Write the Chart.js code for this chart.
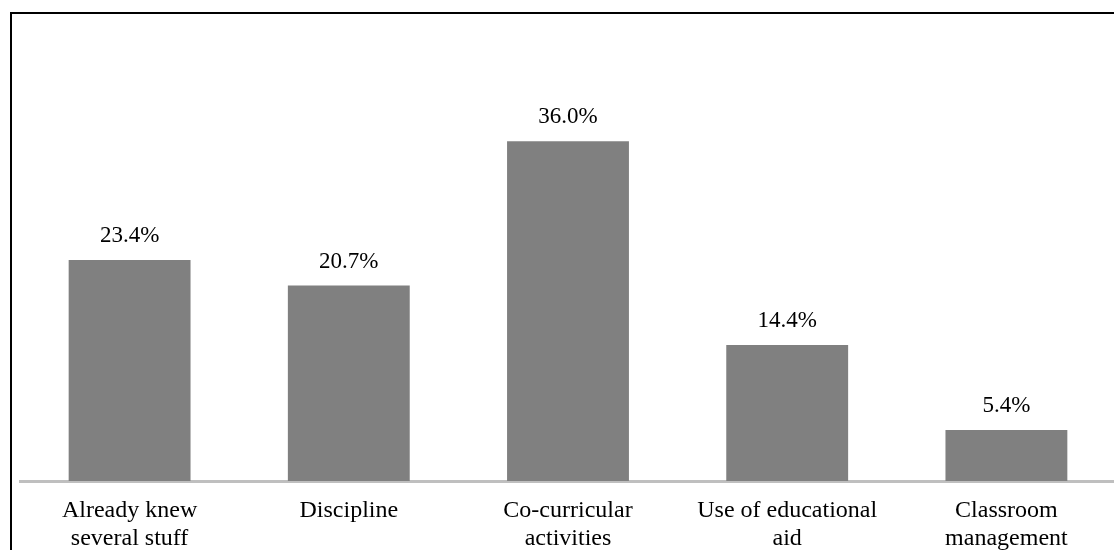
<!DOCTYPE html>
<html>
<head>
<meta charset="utf-8">
<script src="https://cdn.jsdelivr.net/npm/chart.js@4/dist/chart.umd.min.js"></script>
<style>
  html, body { margin: 0; padding: 0; background: #fff; }
  body { width: 1114px; height: 550px; overflow: hidden; position: relative; }
  #frame {
    position: absolute; left: 10px; top: 12px;
    border-left: 2px solid #000; border-top: 2px solid #000;
    width: 1104px; height: 600px;
  }
  #chart { display: block; }
</style>
</head>
<body>
<div id="frame"><canvas id="chart" width="1104" height="600"></canvas></div>
<script>
// Share of responses per category (percent)
const categories = [
  ["Already knew", "several stuff"],
  "Discipline",
  ["Co-curricular", "activities"],
  ["Use of educational", "aid"],
  ["Classroom", "management"]
];
const percentages = [23.4, 20.7, 36.0, 14.4, 5.4];
const yRange = [0, 40];

const SERIF = '"Liberation Serif", "Times New Roman", serif';

// Writes the percentage above each bar
const valueLabels = {
  id: 'valueLabels',
  afterDatasetsDraw(chart) {
    const ctx = chart.ctx;
    const meta = chart.getDatasetMeta(0);
    ctx.save();
    ctx.font = '23px ' + SERIF;
    ctx.fillStyle = '#000';
    ctx.textAlign = 'center';
    ctx.textBaseline = 'alphabetic';
    meta.data.forEach((bar, i) => {
      ctx.fillText(percentages[i].toFixed(1) + '%', bar.x, bar.y - 18);
    });
    ctx.restore();
  }
};

new Chart(document.getElementById('chart'), {
  type: 'bar',
  data: {
    labels: categories,
    datasets: [{
      data: percentages,
      backgroundColor: '#808080',
      borderWidth: 0,
      categoryPercentage: 1.0,
      barPercentage: 0.556
    }]
  },
  options: {
    responsive: false,
    animation: false,
    layout: { padding: { left: 8, right: 0, top: 89.4, bottom: 0 } },
    plugins: { legend: { display: false }, tooltip: { enabled: false } },
    scales: {
      x: {
        grid: { display: false, drawTicks: false },
        border: { display: true, color: '#bfbfbf', width: 3 },
        ticks: {
          color: '#000',
          padding: 16,
          maxRotation: 0,
          autoSkip: false,
          font: { family: SERIF, size: 24, lineHeight: 1.15 }
        },
        afterFit(scale) { scale.height = 133; }
      },
      y: {
        display: false,
        min: yRange[0],
        max: yRange[1]
      }
    }
  },
  plugins: [valueLabels]
});
</script>
</body>
</html>
